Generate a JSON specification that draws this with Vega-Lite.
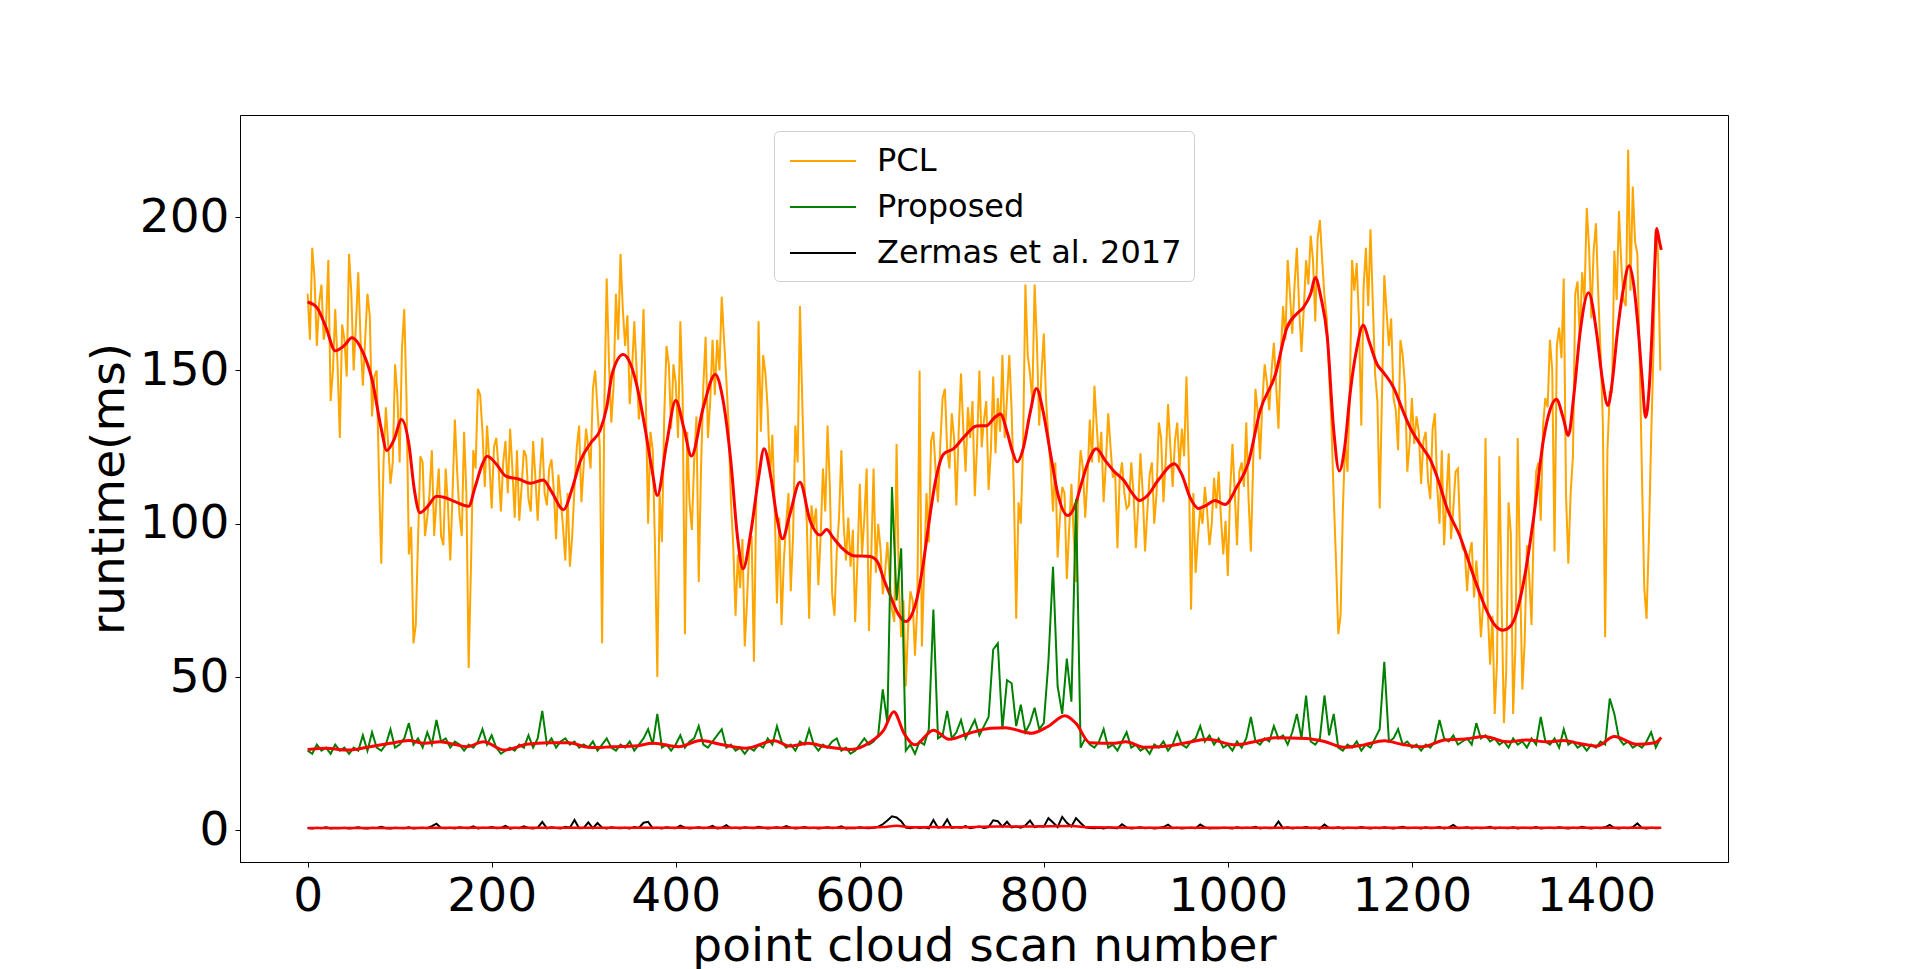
{
  "$schema": "https://vega.github.io/schema/vega-lite/v6.json",
  "width": 1488,
  "height": 747,
  "autosize": {"type": "none"},
  "padding": {"left": 240, "top": 115, "right": 192, "bottom": 107},
  "background": "white",
  "datasets": {
    "pcl": [
      {"s":0,"p":175},{"s":2.5,"p":160},{"s":5,"p":190},{"s":7.5,"p":180},{"s":10,"p":158},{"s":12.5,"p":172},{"s":15,"p":178},{"s":17.5,"p":160},{"s":20,"p":165},{"s":22.5,"p":186},
      {"s":25,"p":140},{"s":27.5,"p":150},{"s":30,"p":170},{"s":32.5,"p":152},{"s":35,"p":128},{"s":37.5,"p":165},{"s":40,"p":160},{"s":42.5,"p":148},{"s":45,"p":188},{"s":47.5,"p":175},
      {"s":50,"p":150},{"s":52.5,"p":165},{"s":55,"p":182},{"s":57.5,"p":160},{"s":60,"p":145},{"s":62.5,"p":160},{"s":65,"p":175},{"s":67.5,"p":168},{"s":70,"p":135},{"s":72.5,"p":148},
      {"s":75,"p":150},{"s":77.5,"p":116},{"s":80,"p":87},{"s":82.5,"p":120},{"s":85,"p":138},{"s":87.5,"p":126},{"s":90,"p":113},{"s":92.5,"p":120},{"s":95,"p":152},{"s":97.5,"p":142},
      {"s":100,"p":120},{"s":102.5,"p":157},{"s":105,"p":170},{"s":107.5,"p":140},{"s":110,"p":90},{"s":112.5,"p":99},{"s":115,"p":61},{"s":117.5,"p":67},{"s":120,"p":95},{"s":122.5,"p":122},
      {"s":125,"p":120},{"s":127.5,"p":96},{"s":130,"p":102},{"s":132.5,"p":110},{"s":135,"p":124},{"s":137.5,"p":96},{"s":140,"p":108},{"s":142.5,"p":118},{"s":145,"p":96},{"s":147.5,"p":93},
      {"s":150,"p":118},{"s":152.5,"p":106},{"s":155,"p":88},{"s":157.5,"p":110},{"s":160,"p":134},{"s":162.5,"p":117},{"s":165,"p":103},{"s":167.5,"p":96},{"s":170,"p":130},{"s":172.5,"p":110},
      {"s":175,"p":53},{"s":177.5,"p":86},{"s":180,"p":124},{"s":182.5,"p":118},{"s":185,"p":144},{"s":187.5,"p":142},{"s":190,"p":130},{"s":192.5,"p":112},{"s":195,"p":132},{"s":197.5,"p":120},
      {"s":200,"p":105},{"s":202.5,"p":125},{"s":205,"p":128},{"s":207.5,"p":118},{"s":210,"p":104},{"s":212.5,"p":120},{"s":215,"p":127},{"s":217.5,"p":110},{"s":220,"p":131},{"s":222.5,"p":118},
      {"s":225,"p":102},{"s":227.5,"p":124},{"s":230,"p":101},{"s":232.5,"p":112},{"s":235,"p":124},{"s":237.5,"p":122},{"s":240,"p":108},{"s":242.5,"p":104},{"s":245,"p":127},{"s":247.5,"p":115},
      {"s":250,"p":101},{"s":252.5,"p":117},{"s":255,"p":128},{"s":257.5,"p":110},{"s":260,"p":106},{"s":262.5,"p":118},{"s":265,"p":121},{"s":267.5,"p":111},{"s":270,"p":95},{"s":272.5,"p":116},
      {"s":275,"p":108},{"s":277.5,"p":99},{"s":280,"p":88},{"s":282.5,"p":110},{"s":285,"p":86},{"s":287.5,"p":96},{"s":290,"p":112},{"s":292.5,"p":125},{"s":295,"p":132},{"s":297.5,"p":107},
      {"s":300,"p":119},{"s":302.5,"p":131},{"s":305,"p":125},{"s":307.5,"p":118},{"s":310,"p":144},{"s":312.5,"p":150},{"s":315,"p":137},{"s":317.5,"p":125},{"s":320,"p":61},{"s":322.5,"p":140},
      {"s":325,"p":180},{"s":327.5,"p":152},{"s":330,"p":133},{"s":332.5,"p":145},{"s":335,"p":175},{"s":337.5,"p":160},{"s":340,"p":188},{"s":342.5,"p":170},{"s":345,"p":158},{"s":347.5,"p":168},
      {"s":350,"p":139},{"s":352.5,"p":150},{"s":355,"p":166},{"s":357.5,"p":150},{"s":360,"p":134},{"s":362.5,"p":146},{"s":365,"p":170},{"s":367.5,"p":140},{"s":370,"p":100},{"s":372.5,"p":130},
      {"s":375,"p":124},{"s":377.5,"p":92},{"s":380,"p":50},{"s":382.5,"p":110},{"s":385,"p":94},{"s":387.5,"p":135},{"s":390,"p":158},{"s":392.5,"p":152},{"s":395,"p":131},{"s":397.5,"p":152},
      {"s":400,"p":146},{"s":402.5,"p":128},{"s":405,"p":166},{"s":407.5,"p":142},{"s":410,"p":64},{"s":412.5,"p":130},{"s":415,"p":107},{"s":417.5,"p":98},{"s":420,"p":120},{"s":422.5,"p":135},
      {"s":425,"p":81},{"s":427.5,"p":118},{"s":430,"p":145},{"s":432.5,"p":161},{"s":435,"p":128},{"s":437.5,"p":140},{"s":440,"p":160},{"s":442.5,"p":142},{"s":445,"p":160},{"s":447.5,"p":150},
      {"s":450,"p":174},{"s":452.5,"p":160},{"s":455,"p":147},{"s":457.5,"p":132},{"s":460,"p":107},{"s":462.5,"p":93},{"s":465,"p":70},{"s":467.5,"p":90},{"s":470,"p":79},{"s":472.5,"p":95},
      {"s":475,"p":60},{"s":477.5,"p":75},{"s":480,"p":93},{"s":482.5,"p":96},{"s":485,"p":55},{"s":487.5,"p":108},{"s":490,"p":166},{"s":492.5,"p":130},{"s":495,"p":155},{"s":497.5,"p":149},
      {"s":500,"p":137},{"s":502.5,"p":115},{"s":505,"p":129},{"s":507.5,"p":106},{"s":510,"p":74},{"s":512.5,"p":102},{"s":515,"p":67},{"s":517.5,"p":88},{"s":520,"p":100},{"s":522.5,"p":110},
      {"s":525,"p":78},{"s":527.5,"p":96},{"s":530,"p":132},{"s":532.5,"p":120},{"s":535,"p":171},{"s":537.5,"p":140},{"s":540,"p":112},{"s":542.5,"p":100},{"s":545,"p":69},{"s":547.5,"p":106},
      {"s":550,"p":99},{"s":552.5,"p":105},{"s":555,"p":80},{"s":557.5,"p":96},{"s":560,"p":118},{"s":562.5,"p":104},{"s":565,"p":132},{"s":567.5,"p":112},{"s":570,"p":77},{"s":572.5,"p":70},
      {"s":575,"p":91},{"s":577.5,"p":102},{"s":580,"p":124},{"s":582.5,"p":100},{"s":585,"p":88},{"s":587.5,"p":102},{"s":590,"p":86},{"s":592.5,"p":98},{"s":595,"p":68},{"s":597.5,"p":88},
      {"s":600,"p":113},{"s":602.5,"p":90},{"s":605,"p":102},{"s":607.5,"p":118},{"s":610,"p":65},{"s":612.5,"p":90},{"s":615,"p":118},{"s":617.5,"p":84},{"s":620,"p":100},{"s":622.5,"p":92},
      {"s":625,"p":77},{"s":627.5,"p":84},{"s":630,"p":94},{"s":632.5,"p":82},{"s":635,"p":72},{"s":637.5,"p":68},{"s":640,"p":126},{"s":642.5,"p":80},{"s":645,"p":63},{"s":647.5,"p":75},
      {"s":650,"p":47},{"s":652.5,"p":66},{"s":655,"p":78},{"s":657.5,"p":75},{"s":660,"p":57},{"s":662.5,"p":73},{"s":665,"p":150},{"s":667.5,"p":60},{"s":670,"p":85},{"s":672.5,"p":110},
      {"s":675,"p":94},{"s":677.5,"p":127},{"s":680,"p":130},{"s":682.5,"p":117},{"s":685,"p":107},{"s":687.5,"p":126},{"s":690,"p":141},{"s":692.5,"p":144},{"s":695,"p":124},{"s":697.5,"p":118},
      {"s":700,"p":136},{"s":702.5,"p":128},{"s":705,"p":106},{"s":707.5,"p":130},{"s":710,"p":149},{"s":712.5,"p":131},{"s":715,"p":117},{"s":717.5,"p":138},{"s":720,"p":128},{"s":722.5,"p":140},
      {"s":725,"p":109},{"s":727.5,"p":126},{"s":730,"p":150},{"s":732.5,"p":125},{"s":735,"p":134},{"s":737.5,"p":140},{"s":740,"p":111},{"s":742.5,"p":124},{"s":745,"p":148},{"s":747.5,"p":123},
      {"s":750,"p":141},{"s":752.5,"p":130},{"s":755,"p":155},{"s":757.5,"p":128},{"s":760,"p":141},{"s":762.5,"p":155},{"s":765,"p":137},{"s":767.5,"p":110},{"s":770,"p":69},{"s":772.5,"p":107},
      {"s":775,"p":100},{"s":777.5,"p":126},{"s":780,"p":178},{"s":782.5,"p":155},{"s":785,"p":149},{"s":787.5,"p":140},{"s":790,"p":178},{"s":792.5,"p":159},{"s":795,"p":132},{"s":797.5,"p":149},
      {"s":800,"p":162},{"s":802.5,"p":140},{"s":805,"p":128},{"s":807.5,"p":118},{"s":810,"p":104},{"s":812.5,"p":120},{"s":815,"p":89},{"s":817.5,"p":102},{"s":820,"p":112},{"s":822.5,"p":110},
      {"s":825,"p":82},{"s":827.5,"p":98},{"s":830,"p":113},{"s":832.5,"p":96},{"s":835,"p":81},{"s":837.5,"p":111},{"s":840,"p":124},{"s":842.5,"p":118},{"s":845,"p":102},{"s":847.5,"p":115},
      {"s":850,"p":134},{"s":852.5,"p":120},{"s":855,"p":145},{"s":857.5,"p":132},{"s":860,"p":120},{"s":862.5,"p":130},{"s":865,"p":107},{"s":867.5,"p":120},{"s":870,"p":136},{"s":872.5,"p":125},
      {"s":875,"p":115},{"s":877.5,"p":117},{"s":880,"p":92},{"s":882.5,"p":115},{"s":885,"p":120},{"s":887.5,"p":110},{"s":890,"p":105},{"s":892.5,"p":106},{"s":895,"p":120},{"s":897.5,"p":110},
      {"s":900,"p":92},{"s":902.5,"p":105},{"s":905,"p":123},{"s":907.5,"p":110},{"s":910,"p":91},{"s":912.5,"p":104},{"s":915,"p":116},{"s":917.5,"p":120},{"s":920,"p":100},{"s":922.5,"p":110},
      {"s":925,"p":133},{"s":927.5,"p":128},{"s":930,"p":107},{"s":932.5,"p":121},{"s":935,"p":139},{"s":937.5,"p":125},{"s":940,"p":112},{"s":942.5,"p":127},{"s":945,"p":133},{"s":947.5,"p":118},
      {"s":950,"p":131},{"s":952.5,"p":122},{"s":955,"p":148},{"s":957.5,"p":120},{"s":960,"p":72},{"s":962.5,"p":110},{"s":965,"p":84},{"s":967.5,"p":96},{"s":970,"p":105},{"s":972.5,"p":100},
      {"s":975,"p":112},{"s":977.5,"p":104},{"s":980,"p":93},{"s":982.5,"p":100},{"s":985,"p":115},{"s":987.5,"p":105},{"s":990,"p":117},{"s":992.5,"p":102},{"s":995,"p":90},{"s":997.5,"p":101},
      {"s":1000,"p":83},{"s":1002.5,"p":111},{"s":1005,"p":126},{"s":1007.5,"p":110},{"s":1010,"p":93},{"s":1012.5,"p":117},{"s":1015,"p":120},{"s":1017.5,"p":112},{"s":1020,"p":133},{"s":1022.5,"p":108},
      {"s":1025,"p":91},{"s":1027.5,"p":120},{"s":1030,"p":144},{"s":1032.5,"p":136},{"s":1035,"p":121},{"s":1037.5,"p":140},{"s":1040,"p":152},{"s":1042.5,"p":146},{"s":1045,"p":137},{"s":1047.5,"p":150},
      {"s":1050,"p":159},{"s":1052.5,"p":145},{"s":1055,"p":131},{"s":1057.5,"p":155},{"s":1060,"p":171},{"s":1062.5,"p":160},{"s":1065,"p":186},{"s":1067.5,"p":175},{"s":1070,"p":162},{"s":1072.5,"p":178},
      {"s":1075,"p":190},{"s":1077.5,"p":170},{"s":1080,"p":156},{"s":1082.5,"p":170},{"s":1085,"p":186},{"s":1087.5,"p":178},{"s":1090,"p":194},{"s":1092.5,"p":186},{"s":1095,"p":166},{"s":1097.5,"p":193},
      {"s":1100,"p":199},{"s":1102.5,"p":186},{"s":1105,"p":174},{"s":1107.5,"p":167},{"s":1110,"p":149},{"s":1112.5,"p":133},{"s":1115,"p":109},{"s":1117.5,"p":88},{"s":1120,"p":64},{"s":1122.5,"p":70},
      {"s":1125,"p":105},{"s":1127.5,"p":127},{"s":1130,"p":117},{"s":1132.5,"p":143},{"s":1135,"p":186},{"s":1137.5,"p":176},{"s":1140,"p":185},{"s":1142.5,"p":166},{"s":1145,"p":132},{"s":1147.5,"p":177},
      {"s":1150,"p":190},{"s":1152.5,"p":171},{"s":1155,"p":196},{"s":1157.5,"p":172},{"s":1160,"p":149},{"s":1162.5,"p":140},{"s":1165,"p":105},{"s":1167.5,"p":142},{"s":1170,"p":181},{"s":1172.5,"p":169},
      {"s":1175,"p":158},{"s":1177.5,"p":167},{"s":1180,"p":141},{"s":1182.5,"p":137},{"s":1185,"p":124},{"s":1187.5,"p":160},{"s":1190,"p":155},{"s":1192.5,"p":145},{"s":1195,"p":117},{"s":1197.5,"p":126},
      {"s":1200,"p":141},{"s":1202.5,"p":126},{"s":1205,"p":135},{"s":1207.5,"p":130},{"s":1210,"p":113},{"s":1212.5,"p":127},{"s":1215,"p":130},{"s":1217.5,"p":114},{"s":1220,"p":108},{"s":1222.5,"p":131},
      {"s":1225,"p":136},{"s":1227.5,"p":112},{"s":1230,"p":100},{"s":1232.5,"p":124},{"s":1235,"p":93},{"s":1237.5,"p":109},{"s":1240,"p":123},{"s":1242.5,"p":95},{"s":1245,"p":105},{"s":1247.5,"p":117},
      {"s":1250,"p":118},{"s":1252.5,"p":97},{"s":1255,"p":92},{"s":1257.5,"p":91},{"s":1260,"p":78},{"s":1262.5,"p":90},{"s":1265,"p":94},{"s":1267.5,"p":76},{"s":1270,"p":88},{"s":1272.5,"p":78},
      {"s":1275,"p":63},{"s":1277.5,"p":74},{"s":1280,"p":128},{"s":1282.5,"p":71},{"s":1285,"p":54},{"s":1287.5,"p":70},{"s":1290,"p":38},{"s":1292.5,"p":55},{"s":1295,"p":122},{"s":1297.5,"p":75},
      {"s":1300,"p":35},{"s":1302.5,"p":52},{"s":1305,"p":107},{"s":1307.5,"p":97},{"s":1310,"p":38},{"s":1312.5,"p":60},{"s":1315,"p":128},{"s":1317.5,"p":84},{"s":1320,"p":46},{"s":1322.5,"p":61},
      {"s":1325,"p":93},{"s":1327.5,"p":83},{"s":1330,"p":67},{"s":1332.5,"p":101},{"s":1335,"p":117},{"s":1337.5,"p":120},{"s":1340,"p":101},{"s":1342.5,"p":132},{"s":1345,"p":141},{"s":1347.5,"p":138},
      {"s":1350,"p":160},{"s":1352.5,"p":150},{"s":1355,"p":91},{"s":1357.5,"p":158},{"s":1360,"p":164},{"s":1362.5,"p":154},{"s":1365,"p":180},{"s":1367.5,"p":109},{"s":1370,"p":87},{"s":1372.5,"p":110},
      {"s":1375,"p":122},{"s":1377.5,"p":175},{"s":1380,"p":179},{"s":1382.5,"p":160},{"s":1385,"p":182},{"s":1387.5,"p":173},{"s":1390,"p":203},{"s":1392.5,"p":190},{"s":1395,"p":167},{"s":1397.5,"p":189},
      {"s":1400,"p":198},{"s":1402.5,"p":175},{"s":1405,"p":156},{"s":1407.5,"p":133},{"s":1410,"p":63},{"s":1412.5,"p":124},{"s":1415,"p":143},{"s":1417.5,"p":143},{"s":1420,"p":189},{"s":1422.5,"p":173},
      {"s":1425,"p":202},{"s":1427.5,"p":185},{"s":1430,"p":173},{"s":1432.5,"p":171},{"s":1435,"p":222},{"s":1437.5,"p":176},{"s":1440,"p":210},{"s":1442.5,"p":192},{"s":1445,"p":188},{"s":1447.5,"p":154},
      {"s":1450,"p":116},{"s":1452.5,"p":79},{"s":1455,"p":69},{"s":1457.5,"p":95},{"s":1460,"p":128},{"s":1462.5,"p":156},{"s":1465,"p":196},{"s":1467.5,"p":188},{"s":1470,"p":150}
    ],
    "raw": [
      {"s":0,"g":26,"z":0.8},{"s":5,"g":25,"z":0.6},{"s":10,"g":28,"z":0.9},{"s":15,"g":26,"z":0.7},{"s":20,"g":27,"z":1.0},
      {"s":25,"g":25,"z":0.6},{"s":30,"g":28,"z":0.8},{"s":35,"g":26,"z":0.7},{"s":40,"g":27,"z":0.9},{"s":45,"g":25,"z":0.6},
      {"s":50,"g":27,"z":0.8},{"s":55,"g":26,"z":1.0},{"s":60,"g":31,"z":0.7},{"s":65,"g":26,"z":0.6},{"s":70,"g":32,"z":0.9},
      {"s":75,"g":27,"z":0.8},{"s":80,"g":26,"z":1.2},{"s":85,"g":28,"z":0.7},{"s":90,"g":33,"z":0.6},{"s":95,"g":27,"z":0.9},
      {"s":100,"g":28,"z":0.8},{"s":105,"g":30,"z":0.7},{"s":110,"g":35,"z":1.0},{"s":115,"g":28,"z":0.6},{"s":120,"g":30,"z":0.8},
      {"s":125,"g":27,"z":0.9},{"s":130,"g":32,"z":0.7},{"s":135,"g":28,"z":1.4},{"s":140,"g":36,"z":2.2},{"s":145,"g":29,"z":0.8},
      {"s":150,"g":30,"z":0.7},{"s":155,"g":27,"z":0.9},{"s":160,"g":29,"z":0.6},{"s":165,"g":28,"z":1.0},{"s":170,"g":26,"z":0.8},
      {"s":175,"g":28,"z":0.7},{"s":180,"g":27,"z":1.3},{"s":185,"g":29,"z":0.6},{"s":190,"g":33,"z":0.9},{"s":195,"g":28,"z":0.8},
      {"s":200,"g":31,"z":1.1},{"s":205,"g":27,"z":0.7},{"s":210,"g":25,"z":0.8},{"s":215,"g":26,"z":1.5},{"s":220,"g":27,"z":0.6},
      {"s":225,"g":26,"z":0.9},{"s":230,"g":28,"z":0.7},{"s":235,"g":27,"z":1.3},{"s":240,"g":31,"z":0.8},{"s":245,"g":27,"z":0.6},
      {"s":250,"g":30,"z":0.9},{"s":255,"g":39,"z":2.8},{"s":260,"g":28,"z":0.7},{"s":265,"g":30,"z":1.0},{"s":270,"g":27,"z":0.8},
      {"s":275,"g":29,"z":0.6},{"s":280,"g":30,"z":1.2},{"s":285,"g":28,"z":0.9},{"s":290,"g":29,"z":3.4},{"s":295,"g":27,"z":0.7},
      {"s":300,"g":28,"z":0.8},{"s":305,"g":27,"z":2.6},{"s":310,"g":29,"z":0.7},{"s":315,"g":26,"z":2.4},{"s":320,"g":28,"z":0.9},
      {"s":325,"g":30,"z":0.6},{"s":330,"g":27,"z":1.0},{"s":335,"g":26,"z":0.8},{"s":340,"g":28,"z":0.7},{"s":345,"g":27,"z":0.9},
      {"s":350,"g":29,"z":0.6},{"s":355,"g":26,"z":1.1},{"s":360,"g":28,"z":0.8},{"s":365,"g":30,"z":2.5},{"s":370,"g":33,"z":2.8},
      {"s":375,"g":28,"z":0.7},{"s":380,"g":38,"z":0.9},{"s":385,"g":27,"z":0.6},{"s":390,"g":28,"z":1.0},{"s":395,"g":26,"z":0.8},
      {"s":400,"g":28,"z":0.7},{"s":405,"g":31,"z":1.6},{"s":410,"g":27,"z":0.9},{"s":415,"g":29,"z":0.6},{"s":420,"g":30,"z":0.8},
      {"s":425,"g":34,"z":1.0},{"s":430,"g":28,"z":0.7},{"s":435,"g":27,"z":0.9},{"s":440,"g":29,"z":1.5},{"s":445,"g":31,"z":0.6},
      {"s":450,"g":33,"z":0.8},{"s":455,"g":27,"z":1.7},{"s":460,"g":28,"z":0.7},{"s":465,"g":26,"z":0.9},{"s":470,"g":27,"z":0.6},
      {"s":475,"g":25,"z":1.0},{"s":480,"g":27,"z":0.8},{"s":485,"g":26,"z":0.7},{"s":490,"g":28,"z":1.2},{"s":495,"g":27,"z":0.9},
      {"s":500,"g":30,"z":0.6},{"s":505,"g":28,"z":0.8},{"s":510,"g":34,"z":1.0},{"s":515,"g":29,"z":0.7},{"s":520,"g":27,"z":1.4},
      {"s":525,"g":28,"z":0.9},{"s":530,"g":26,"z":0.6},{"s":535,"g":29,"z":0.8},{"s":540,"g":28,"z":1.1},{"s":545,"g":33,"z":0.7},
      {"s":550,"g":28,"z":0.9},{"s":555,"g":26,"z":0.6},{"s":560,"g":28,"z":0.8},{"s":565,"g":27,"z":1.0},{"s":570,"g":29,"z":0.7},
      {"s":575,"g":30,"z":0.9},{"s":580,"g":26,"z":1.3},{"s":585,"g":27,"z":0.6},{"s":590,"g":25,"z":0.8},{"s":595,"g":26,"z":0.7},
      {"s":600,"g":28,"z":1.0},{"s":605,"g":30,"z":0.8},{"s":610,"g":28,"z":0.7},{"s":615,"g":29,"z":0.9},{"s":620,"g":31,"z":1.2},
      {"s":625,"g":46,"z":2.0},{"s":630,"g":35,"z":3.2},{"s":635,"g":112,"z":4.6},{"s":640,"g":75,"z":4.2},{"s":645,"g":92,"z":3.0},
      {"s":650,"g":26,"z":0.9},{"s":655,"g":28,"z":0.7},{"s":660,"g":25,"z":1.1},{"s":665,"g":29,"z":0.8},{"s":670,"g":28,"z":1.0},
      {"s":675,"g":33,"z":0.7},{"s":680,"g":72,"z":3.4},{"s":685,"g":30,"z":0.9},{"s":690,"g":31,"z":1.2},{"s":695,"g":39,"z":3.6},
      {"s":700,"g":30,"z":0.8},{"s":705,"g":32,"z":1.1},{"s":710,"g":36,"z":0.9},{"s":715,"g":30,"z":1.4},{"s":720,"g":33,"z":0.7},
      {"s":725,"g":36,"z":1.0},{"s":730,"g":31,"z":1.3},{"s":735,"g":34,"z":0.8},{"s":740,"g":37,"z":1.1},{"s":745,"g":59,"z":3.3},
      {"s":750,"g":61,"z":3.0},{"s":755,"g":33,"z":1.2},{"s":760,"g":49,"z":2.8},{"s":765,"g":48,"z":1.0},{"s":770,"g":34,"z":1.3},
      {"s":775,"g":41,"z":0.9},{"s":780,"g":32,"z":1.6},{"s":785,"g":35,"z":3.2},{"s":790,"g":40,"z":1.1},{"s":795,"g":33,"z":1.4},
      {"s":800,"g":35,"z":1.2},{"s":805,"g":55,"z":4.0},{"s":810,"g":86,"z":2.6},{"s":815,"g":47,"z":1.1},{"s":820,"g":38,"z":4.4},
      {"s":825,"g":56,"z":2.5},{"s":830,"g":42,"z":1.3},{"s":835,"g":108,"z":4.0},{"s":840,"g":27,"z":2.4},{"s":845,"g":30,"z":1.0},
      {"s":850,"g":28,"z":0.8},{"s":855,"g":27,"z":0.7},{"s":860,"g":29,"z":0.9},{"s":865,"g":33,"z":0.6},{"s":870,"g":27,"z":1.0},
      {"s":875,"g":28,"z":0.8},{"s":880,"g":26,"z":0.7},{"s":885,"g":29,"z":2.0},{"s":890,"g":32,"z":0.9},{"s":895,"g":27,"z":0.6},
      {"s":900,"g":28,"z":0.8},{"s":905,"g":26,"z":1.0},{"s":910,"g":27,"z":0.7},{"s":915,"g":25,"z":0.9},{"s":920,"g":28,"z":0.6},
      {"s":925,"g":27,"z":0.8},{"s":930,"g":29,"z":1.1},{"s":935,"g":26,"z":1.9},{"s":940,"g":28,"z":0.7},{"s":945,"g":32,"z":0.9},
      {"s":950,"g":28,"z":0.6},{"s":955,"g":27,"z":0.8},{"s":960,"g":29,"z":0.9},{"s":965,"g":30,"z":0.7},{"s":970,"g":34,"z":1.9},
      {"s":975,"g":29,"z":1.0},{"s":980,"g":31,"z":0.6},{"s":985,"g":28,"z":0.8},{"s":990,"g":30,"z":0.7},{"s":995,"g":27,"z":0.9},
      {"s":1000,"g":28,"z":0.8},{"s":1005,"g":26,"z":0.6},{"s":1010,"g":29,"z":1.0},{"s":1015,"g":27,"z":0.7},{"s":1020,"g":30,"z":0.9},
      {"s":1025,"g":37,"z":0.8},{"s":1030,"g":29,"z":1.2},{"s":1035,"g":28,"z":0.6},{"s":1040,"g":30,"z":0.9},{"s":1045,"g":29,"z":0.7},
      {"s":1050,"g":34,"z":0.8},{"s":1055,"g":30,"z":2.9},{"s":1060,"g":31,"z":0.7},{"s":1065,"g":28,"z":1.0},{"s":1070,"g":32,"z":0.6},
      {"s":1075,"g":38,"z":0.9},{"s":1080,"g":30,"z":0.8},{"s":1085,"g":44,"z":1.1},{"s":1090,"g":29,"z":0.7},{"s":1095,"g":28,"z":0.9},
      {"s":1100,"g":30,"z":0.6},{"s":1105,"g":44,"z":1.9},{"s":1110,"g":31,"z":0.8},{"s":1115,"g":38,"z":0.7},{"s":1120,"g":27,"z":1.0},
      {"s":1125,"g":26,"z":0.6},{"s":1130,"g":28,"z":0.9},{"s":1135,"g":27,"z":0.8},{"s":1140,"g":29,"z":0.7},{"s":1145,"g":26,"z":1.1},
      {"s":1150,"g":28,"z":0.8},{"s":1155,"g":27,"z":0.6},{"s":1160,"g":30,"z":0.9},{"s":1165,"g":33,"z":0.7},{"s":1170,"g":55,"z":1.0},
      {"s":1175,"g":29,"z":0.8},{"s":1180,"g":30,"z":0.6},{"s":1185,"g":33,"z":0.9},{"s":1190,"g":28,"z":1.2},{"s":1195,"g":29,"z":0.7},
      {"s":1200,"g":27,"z":0.8},{"s":1205,"g":28,"z":0.9},{"s":1210,"g":26,"z":0.6},{"s":1215,"g":28,"z":1.0},{"s":1220,"g":27,"z":0.7},
      {"s":1225,"g":29,"z":0.8},{"s":1230,"g":36,"z":1.1},{"s":1235,"g":30,"z":0.6},{"s":1240,"g":29,"z":0.9},{"s":1245,"g":31,"z":1.8},
      {"s":1250,"g":28,"z":0.7},{"s":1255,"g":29,"z":0.8},{"s":1260,"g":30,"z":1.0},{"s":1265,"g":28,"z":0.6},{"s":1270,"g":35,"z":0.9},
      {"s":1275,"g":30,"z":0.7},{"s":1280,"g":31,"z":0.8},{"s":1285,"g":29,"z":1.2},{"s":1290,"g":30,"z":0.6},{"s":1295,"g":28,"z":0.9},
      {"s":1300,"g":29,"z":0.8},{"s":1305,"g":27,"z":0.7},{"s":1310,"g":30,"z":1.0},{"s":1315,"g":28,"z":0.6},{"s":1320,"g":29,"z":0.9},
      {"s":1325,"g":27,"z":0.8},{"s":1330,"g":30,"z":0.7},{"s":1335,"g":28,"z":1.1},{"s":1340,"g":37,"z":0.6},{"s":1345,"g":29,"z":0.8},
      {"s":1350,"g":28,"z":0.9},{"s":1355,"g":30,"z":0.7},{"s":1360,"g":27,"z":1.0},{"s":1365,"g":33,"z":0.8},{"s":1370,"g":28,"z":0.6},
      {"s":1375,"g":29,"z":0.9},{"s":1380,"g":27,"z":0.7},{"s":1385,"g":28,"z":1.2},{"s":1390,"g":26,"z":0.8},{"s":1395,"g":28,"z":0.6},
      {"s":1400,"g":27,"z":0.9},{"s":1405,"g":29,"z":0.7},{"s":1410,"g":28,"z":1.0},{"s":1415,"g":43,"z":1.8},{"s":1420,"g":38,"z":0.8},
      {"s":1425,"g":30,"z":0.6},{"s":1430,"g":28,"z":0.9},{"s":1435,"g":29,"z":0.7},{"s":1440,"g":27,"z":1.0},{"s":1445,"g":28,"z":2.3},
      {"s":1450,"g":27,"z":0.8},{"s":1455,"g":29,"z":0.6},{"s":1460,"g":32,"z":0.9},{"s":1465,"g":27,"z":0.7},{"s":1470,"g":30,"z":0.8}
    ],
    "ps": [
      {"s":0,"v":172.3},{"s":10,"v":170.5},{"s":20,"v":164},{"s":30,"v":156.4},{"s":40,"v":158.2},{"s":48,"v":160.7},{"s":60,"v":156},{"s":70,"v":147},{"s":80,"v":131},{"s":86,"v":123.9},
      {"s":94,"v":127.5},{"s":102,"v":134},{"s":110,"v":126},{"s":116,"v":111},{"s":122,"v":103.6},{"s":130,"v":105.5},{"s":140,"v":109},{"s":150,"v":108.5},{"s":160,"v":107.2},{"s":175,"v":105.7},
      {"s":182,"v":112},{"s":190,"v":119.5},{"s":195,"v":122},{"s":205,"v":119.5},{"s":215,"v":115.6},{"s":230,"v":114.5},{"s":242,"v":113.2},{"s":256,"v":114.3},{"s":265,"v":110.5},{"s":278,"v":104.6},
      {"s":288,"v":112},{"s":296,"v":120.2},{"s":308,"v":126.5},{"s":318,"v":130.6},{"s":325,"v":138},{"s":331,"v":149},{"s":343,"v":155.2},{"s":351,"v":152},{"s":360,"v":142},{"s":367,"v":130.6},
      {"s":374,"v":118},{"s":380,"v":109.2},{"s":390,"v":126},{"s":400,"v":140.2},{"s":409,"v":131},{"s":417,"v":122.1},{"s":430,"v":138},{"s":443,"v":148.7},{"s":451,"v":141},{"s":460,"v":120},
      {"s":467,"v":96},{"s":473,"v":85.3},{"s":482,"v":98},{"s":490,"v":115},{"s":496,"v":124.5},{"s":503,"v":116},{"s":510,"v":102},{"s":516,"v":95.1},{"s":524,"v":103},{"s":535,"v":113.5},
      {"s":546,"v":101},{"s":557,"v":96.3},{"s":564,"v":98.1},{"s":571,"v":95.5},{"s":581,"v":92},{"s":593,"v":89.6},{"s":611,"v":89.3},{"s":619,"v":87.7},{"s":626,"v":82},{"s":633,"v":76.7},
      {"s":641,"v":71},{"s":650,"v":68.1},{"s":656,"v":70},{"s":662,"v":75.4},{"s":669,"v":87},{"s":675,"v":100},{"s":682,"v":113.5},{"s":691,"v":122.7},{"s":702,"v":124.5},{"s":713,"v":128.2},
      {"s":727,"v":131.9},{"s":738,"v":132},{"s":746,"v":134.5},{"s":753,"v":135.8},{"s":760,"v":130},{"s":766,"v":123.5},{"s":771,"v":120.2},{"s":778,"v":125},{"s":785,"v":136},{"s":792,"v":144.1},
      {"s":799,"v":137},{"s":807,"v":123.3},{"s":815,"v":110},{"s":826,"v":102.7},{"s":834,"v":106},{"s":840,"v":112.2},{"s":848,"v":120},{"s":857,"v":124.5},{"s":867,"v":120.5},{"s":876,"v":117.2},
      {"s":887,"v":114.1},{"s":896,"v":110},{"s":904,"v":107.6},{"s":912,"v":109},{"s":925,"v":114.5},{"s":942,"v":119.6},{"s":950,"v":116},{"s":959,"v":108.5},{"s":968,"v":105},{"s":977,"v":106.1},
      {"s":986,"v":107.6},{"s":997,"v":106.3},{"s":1010,"v":112.2},{"s":1022,"v":119.6},{"s":1035,"v":136.8},{"s":1052,"v":149},{"s":1064,"v":163.8},{"s":1075,"v":168.5},{"s":1082,"v":170.5},{"s":1090,"v":175},
      {"s":1095,"v":180.3},{"s":1101,"v":174},{"s":1108,"v":161},{"s":1115,"v":130.6},{"s":1121,"v":117.2},{"s":1127,"v":125},{"s":1133,"v":142.9},{"s":1140,"v":157},{"s":1147,"v":164.7},{"s":1154,"v":159},
      {"s":1162,"v":152.1},{"s":1170,"v":149},{"s":1180,"v":144.5},{"s":1190,"v":137},{"s":1198,"v":131.4},{"s":1210,"v":125.5},{"s":1220,"v":120.9},{"s":1230,"v":113},{"s":1238,"v":105.2},{"s":1252,"v":96.1},
      {"s":1267,"v":83},{"s":1282,"v":71.2},{"s":1290,"v":67},{"s":1299,"v":65.3},{"s":1305,"v":66},{"s":1311,"v":68.6},{"s":1321,"v":80.4},{"s":1332,"v":101.3},{"s":1343,"v":127.5},{"s":1350,"v":137},
      {"s":1357,"v":140.6},{"s":1364,"v":135},{"s":1370,"v":128.8},{"s":1376,"v":142},{"s":1383,"v":162.9},{"s":1392,"v":175.3},{"s":1401,"v":161.6},{"s":1407,"v":147},{"s":1413,"v":138.6},{"s":1418,"v":147},
      {"s":1423,"v":161.6},{"s":1430,"v":177},{"s":1436,"v":184.1},{"s":1441,"v":178},{"s":1445,"v":166.8},{"s":1450,"v":148},{"s":1454,"v":134.7},{"s":1458,"v":145},{"s":1461,"v":162.9},{"s":1464,"v":185},
      {"s":1466,"v":196.3},{"s":1469,"v":192},{"s":1471,"v":189.3}
    ],
    "gs": [
      {"s":0,"v":26.4},{"s":20,"v":26.8},{"s":44,"v":26.2},{"s":68,"v":27.3},{"s":90,"v":28.4},{"s":110,"v":29.3},{"s":127,"v":28.4},{"s":144,"v":28.9},{"s":160,"v":28.0},{"s":173,"v":27.3},
      {"s":191,"v":28.9},{"s":214,"v":26.2},{"s":238,"v":28.1},{"s":262,"v":28.6},{"s":284,"v":28.6},{"s":301,"v":27.3},{"s":315,"v":27.0},{"s":330,"v":27.3},{"s":355,"v":27.5},{"s":376,"v":28.4},
      {"s":403,"v":27.3},{"s":427,"v":29.3},{"s":447,"v":28.2},{"s":476,"v":26.8},{"s":507,"v":29.2},{"s":524,"v":27.5},{"s":544,"v":28.4},{"s":563,"v":27.3},{"s":590,"v":26.4},{"s":612,"v":28.9},
      {"s":626,"v":32.7},{"s":637,"v":38.7},{"s":648,"v":31.7},{"s":660,"v":27.9},{"s":680,"v":32.7},{"s":697,"v":29.7},{"s":719,"v":31.7},{"s":742,"v":33.3},{"s":758,"v":33.5},{"s":787,"v":31.7},
      {"s":804,"v":33.8},{"s":823,"v":37.4},{"s":835,"v":34.9},{"s":850,"v":28.6},{"s":877,"v":28.4},{"s":889,"v":28.9},{"s":910,"v":27.1},{"s":935,"v":27.5},{"s":955,"v":28.6},{"s":978,"v":29.7},
      {"s":1008,"v":27.9},{"s":1030,"v":29.0},{"s":1051,"v":30.2},{"s":1085,"v":30.0},{"s":1105,"v":29.0},{"s":1126,"v":27.1},{"s":1148,"v":27.9},{"s":1170,"v":29.2},{"s":1190,"v":28.0},{"s":1211,"v":27.3},
      {"s":1236,"v":29.5},{"s":1258,"v":29.8},{"s":1279,"v":30.6},{"s":1303,"v":28.9},{"s":1325,"v":29.5},{"s":1347,"v":28.9},{"s":1365,"v":29.3},{"s":1381,"v":28.4},{"s":1401,"v":27.5},{"s":1420,"v":30.6},
      {"s":1444,"v":28.1},{"s":1464,"v":28.6},{"s":1471,"v":30.3}
    ],
    "zs": [
      {"s":0,"v":0.8},{"s":100,"v":0.8},{"s":200,"v":0.85},{"s":300,"v":0.9},{"s":400,"v":0.85},{"s":500,"v":0.85},{"s":600,"v":0.9},{"s":625,"v":1.1},{"s":640,"v":1.5},{"s":655,"v":1.0},
      {"s":680,"v":1.1},{"s":700,"v":1.0},{"s":750,"v":1.3},{"s":790,"v":1.3},{"s":830,"v":1.4},{"s":850,"v":1.0},{"s":900,"v":0.85},{"s":1000,"v":0.85},{"s":1100,"v":0.9},{"s":1200,"v":0.85},
      {"s":1300,"v":0.85},{"s":1400,"v":0.9},{"s":1471,"v":0.85}
    ]
  },
  "encoding": {
    "x": {
      "field": "s",
      "type": "quantitative",
      "title": "point cloud scan number",
      "scale": {"domain": [-73.5, 1543.5], "nice": false, "zero": false},
      "axis": {"values": [0, 200, 400, 600, 800, 1000, 1200, 1400], "format": "d"}
    }
  },
  "layer": [
    {
      "data": {"name": "pcl"},
      "mark": {"type": "line", "strokeWidth": 2, "clip": true},
      "encoding": {
        "y": {"field": "p", "type": "quantitative", "title": "runtime(ms)",
              "scale": {"domain": [-10.3, 233.3], "nice": false, "zero": false},
              "axis": {"values": [0, 50, 100, 150, 200]}},
        "color": {
          "datum": "PCL",
          "type": "nominal",
          "scale": {"domain": ["PCL", "Proposed", "Zermas et al. 2017"], "range": ["orange", "green", "black"]},
          "legend": {
            "title": null,
            "orient": "none",
            "legendX": 534,
            "legendY": 16,
            "symbolType": "M-2,0H2",
            "symbolSize": 1089,
            "symbolStrokeWidth": 2.2,
            "symbolOffset": 19,
            "labelFont": "DejaVu Sans",
            "labelFontSize": 32,
            "labelColor": "black",
            "labelOffset": 36,
            "labelLimit": 0,
            "rowPadding": 12,
            "padding": 12,
            "strokeColor": "#d0d0d0",
            "fillColor": "white",
            "cornerRadius": 5
          }
        }
      }
    },
    {
      "data": {"name": "ps"},
      "mark": {"type": "line", "interpolate": "monotone", "color": "red", "strokeWidth": 3, "clip": true},
      "encoding": {
        "y": {"field": "v", "type": "quantitative", "title": "runtime(ms)",
              "scale": {"domain": [-10.3, 233.3], "nice": false, "zero": false}}
      }
    },
    {
      "data": {"name": "raw"},
      "mark": {"type": "line", "strokeWidth": 2, "clip": true},
      "encoding": {
        "y": {"field": "g", "type": "quantitative", "title": "runtime(ms)",
              "scale": {"domain": [-10.3, 233.3], "nice": false, "zero": false}},
        "color": {"datum": "Proposed", "type": "nominal",
                  "scale": {"domain": ["PCL", "Proposed", "Zermas et al. 2017"], "range": ["orange", "green", "black"]}}
      }
    },
    {
      "data": {"name": "gs"},
      "mark": {"type": "line", "interpolate": "monotone", "color": "red", "strokeWidth": 3, "clip": true},
      "encoding": {
        "y": {"field": "v", "type": "quantitative", "title": "runtime(ms)",
              "scale": {"domain": [-10.3, 233.3], "nice": false, "zero": false}}
      }
    },
    {
      "data": {"name": "raw"},
      "mark": {"type": "line", "strokeWidth": 2, "clip": true},
      "encoding": {
        "y": {"field": "z", "type": "quantitative", "title": "runtime(ms)",
              "scale": {"domain": [-10.3, 233.3], "nice": false, "zero": false}},
        "color": {"datum": "Zermas et al. 2017", "type": "nominal",
                  "scale": {"domain": ["PCL", "Proposed", "Zermas et al. 2017"], "range": ["orange", "green", "black"]}}
      }
    },
    {
      "data": {"name": "zs"},
      "mark": {"type": "line", "interpolate": "monotone", "color": "red", "strokeWidth": 2.5, "clip": true},
      "encoding": {
        "y": {"field": "v", "type": "quantitative", "title": "runtime(ms)",
              "scale": {"domain": [-10.3, 233.3], "nice": false, "zero": false}}
      }
    }
  ],
  "config": {
    "font": "DejaVu Sans",
    "view": {"stroke": "black", "strokeWidth": 1},
    "axis": {
      "labelFont": "DejaVu Sans",
      "labelFontSize": 47,
      "labelColor": "black",
      "titleFont": "DejaVu Sans",
      "titleFontSize": 47,
      "titleFontWeight": "normal",
      "titleColor": "black",
      "grid": false,
      "tickColor": "black",
      "tickSize": 5,
      "tickWidth": 1,
      "domainColor": "black",
      "domainWidth": 1,
      "labelPadding": 6,
      "labelFlush": false,
      "labelOverlap": false
    },
    "axisX": {"titlePadding": 4},
    "axisY": {"titlePadding": 6}
  }
}
